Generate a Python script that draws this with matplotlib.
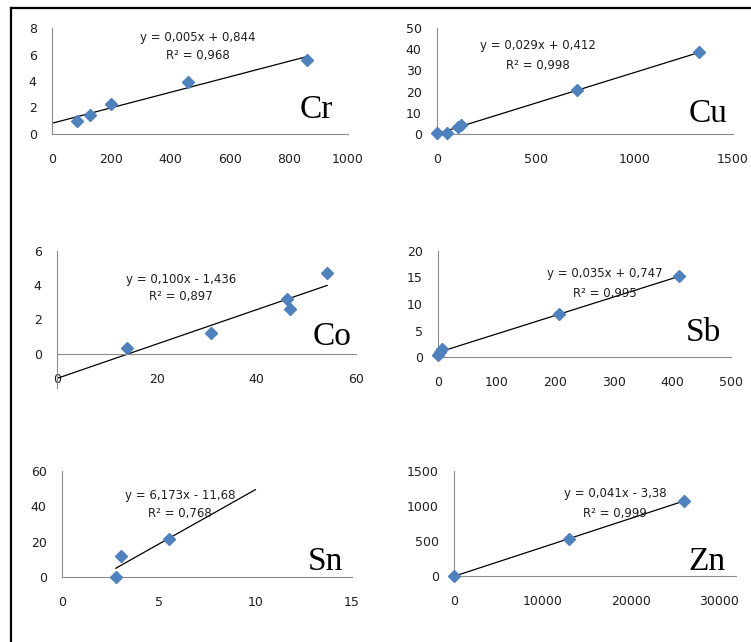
import matplotlib
matplotlib.use("Agg")
import matplotlib.pyplot as plt
import numpy as np
from matplotlib.lines import Line2D

W, H = 751, 642

# values
cr_x = [84, 130, 200, 460, 860]
cr_y = [0.95, 1.43, 2.3, 3.9, 5.6]
cu_x = [0, 50, 105, 120, 710, 1330]
cu_y = [0.4, 0.6, 3.2, 4.3, 20.6, 38.5]
co_x = [14, 31, 46.2, 46.7, 54.2]
co_y = [0.35, 1.2, 3.2, 2.6, 4.7]
sb_x = [0, 3, 7, 206, 412]
sb_y = [0.3, 1.0, 1.6, 8.1, 15.2]
sn_x = [2.78, 3.04, 5.55]
sn_y = [0, 12, 21.5]
zn_x = [0, 13000, 26000]
zn_y = [0, 525, 1075]

cr_eq = ["y = 0,005x + 0,844", "R² = 0,968"]
cu_eq = ["y = 0,029x + 0,412", "R² = 0,998"]
co_eq = ["y = 0,100x - 1,436", "R² = 0,897"]
sb_eq = ["y = 0,035x + 0,747", "R² = 0,995"]
sn_eq = ["y = 6,173x - 11,68", "R² = 0,768"]
zn_eq = ["y = 0,041x - 3,38", "R² = 0,999"]

BLUE = "#4F81BD"
AXIS = "#8c8c8c"
TXT = "#1e1e1e"

panels = [
    # name, x, y, eq, xlim, ylim, xticks, yticks, trend range, rect px (l, t, r, b), eq centre px, label pos px
    dict(name="Cr", x=cr_x, y=cr_y, eq=cr_eq, xlim=(0, 1000), ylim=(0, 8),
         xticks=[0, 200, 400, 600, 800, 1000], yticks=[0, 2, 4, 6, 8],
         fit=(0, None), rect=(52, 28, 348, 134), eqpos=(198, 37, 56), lab=(333, 118)),
    dict(name="Cu", x=cu_x, y=cu_y, eq=cu_eq, xlim=(0, 1500), ylim=(0, 50),
         xticks=[0, 500, 1000, 1500], yticks=[0, 10, 20, 30, 40, 50],
         fit=(0, None), rect=(437, 28, 733, 134), eqpos=(538, 46, 65), lab=(727, 122)),
    dict(name="Co", x=co_x, y=co_y, eq=co_eq, xlim=(0, 60), ylim=(-2, 6),
         xticks=[0, 20, 40, 60], yticks=[0, 2, 4, 6],
         fit=(0, None), rect=(57, 251, 356, 388), eqpos=(181, 279, 296), lab=(352, 345)),
    dict(name="Sb", x=sb_x, y=sb_y, eq=sb_eq, xlim=(0, 500), ylim=(0, 20),
         xticks=[0, 100, 200, 300, 400, 500], yticks=[0, 5, 10, 15, 20],
         fit=(0, None), rect=(438, 251, 731, 357), eqpos=(605, 274, 293), lab=(721, 341)),
    dict(name="Sn", x=sn_x, y=sn_y, eq=sn_eq, xlim=(0, 15), ylim=(0, 60),
         xticks=[0, 5, 10, 15], yticks=[0, 20, 40, 60],
         fit=(None, 10), rect=(62, 471, 352, 577), eqpos=(180, 495, 514), lab=(343, 570)),
    dict(name="Zn", x=zn_x, y=zn_y, eq=zn_eq, xlim=(0, 31900), ylim=(0, 1500),
         xticks=[0, 10000, 20000, 30000], yticks=[0, 500, 1000, 1500],
         fit=(0, None), rect=(454, 471, 736, 576), eqpos=(615, 494, 513), lab=(726, 570)),
]

fig = plt.figure(figsize=(W / 100, H / 100), dpi=100)
fig.patch.set_facecolor("white")


def fx(px):
    return px / W


def fy(py):
    return 1 - py / H


for p in panels:
    l, t, r, b = p["rect"]
    ax = fig.add_axes([fx(l), fy(b), (r - l) / W, (b - t) / H])
    ax.set_facecolor("none")
    ax.set_xlim(*p["xlim"])
    ax.set_ylim(*p["ylim"])
    for side in ["top", "right"]:
        ax.spines[side].set_visible(False)
    ax.spines["left"].set_color(AXIS)
    ax.spines["bottom"].set_color(AXIS)
    ax.spines["left"].set_linewidth(0.8)
    ax.spines["bottom"].set_linewidth(0.8)
    ax.spines["bottom"].set_position(("data", 0))
    ax.set_xticks(p["xticks"])
    ax.set_yticks(p["yticks"])
    ax.set_xticklabels([str(v) for v in p["xticks"]])
    ax.set_yticklabels([str(v) for v in p["yticks"]])
    ax.tick_params(axis="x", length=0, pad=14, labelsize=9, labelcolor=TXT)
    ax.tick_params(axis="y", length=0, pad=11, labelsize=9, labelcolor=TXT)

    # linear trend line
    xs = np.array(p["x"], dtype=float)
    ys = np.array(p["y"], dtype=float)
    k, c = np.polyfit(xs, ys, 1)
    x0 = xs.min() if p["fit"][0] is None else p["fit"][0]
    x1 = xs.max() if p["fit"][1] is None else p["fit"][1]
    ax.plot([x0, x1], [k * x0 + c, k * x1 + c], color="black", lw=0.9, zorder=2)
    ax.plot(xs, ys, linestyle="none", marker="D", ms=6.3, color=BLUE, mec=BLUE, zorder=3,
            clip_on=False)

    ex, ey1, ey2 = p["eqpos"]
    fig.text(fx(ex), fy(ey1), p["eq"][0], ha="center", va="center", fontsize=8.5, color=TXT)
    fig.text(fx(ex), fy(ey2), p["eq"][1], ha="center", va="center", fontsize=8.5, color=TXT)

    lx, ly = p["lab"]
    fig.text(fx(lx), fy(ly), p["name"], ha="right", va="baseline", fontsize=24,
             family="Liberation Serif", color="black")

# frame lines round the figure (top and left only)
fig.add_artist(Line2D([fx(10.5), 1], [fy(7.5), fy(7.5)], color="black", lw=1.6))
fig.add_artist(Line2D([fx(10.5), fx(10.5)], [fy(7.5), 0], color="black", lw=1.6))

fig.savefig("out.png", dpi=100, facecolor="white")
